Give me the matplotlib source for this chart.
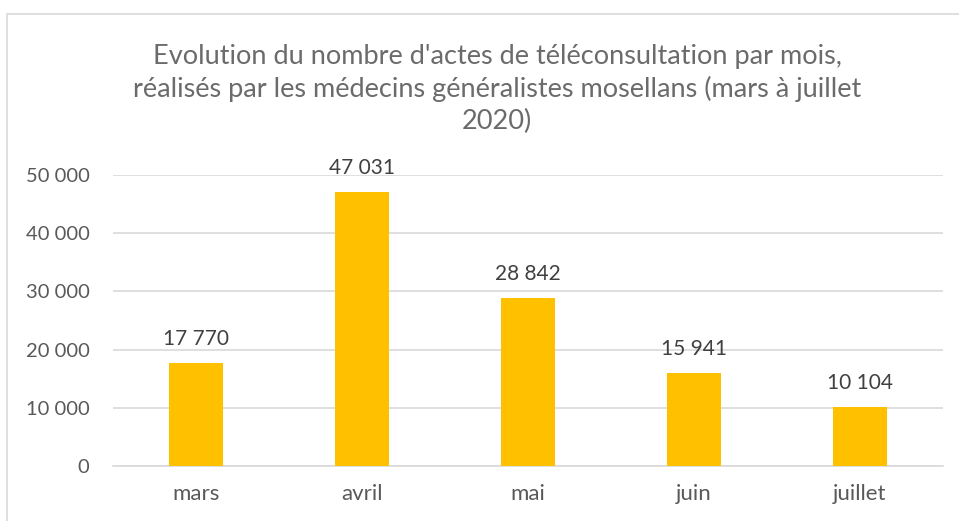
import matplotlib.pyplot as plt
from matplotlib.patches import Rectangle

# donnees
mois = ["mars", "avril", "mai", "juin", "juillet"]
actes = [17770, 47031, 28842, 15941, 10104]
yticks = [0, 10000, 20000, 30000, 40000, 50000]

def fr(v):
    return f"{v:,}".replace(",", " ")

plt.rcParams['font.family'] = ['Lato', 'DejaVu Sans']

W, H = 959, 521
fig = plt.figure(figsize=(W / 100, H / 100), dpi=100)
fig.patch.set_facecolor("white")

# cadre du graphique
fig.patches.append(Rectangle((7 / W, -0.1), 1.2, (H - 14) / H + 0.1,
                             transform=fig.transFigure, fill=False,
                             edgecolor="#D9D9D9", linewidth=1.2))

ax = fig.add_axes([113 / W, 1 - 466 / H, (943 - 113) / W, (466 - 175) / H])
x = range(len(mois))
ax.bar(x, actes, width=0.32, color="#FFC000", zorder=3)
ax.set_xlim(-0.5, len(mois) - 0.5)
ax.set_ylim(0, 50000)
ax.set_yticks(yticks)
ax.set_yticklabels([fr(v) for v in yticks])
ax.set_xticks(list(x))
ax.set_xticklabels(mois)
ax.tick_params(length=0, labelsize=14.5, colors="#595959")
ax.tick_params(axis="x", labelsize=16, pad=13)
ax.tick_params(axis="y", pad=17)
ax.grid(axis="y", color="#D9D9D9", linewidth=1.2, zorder=0)
for s in ["top", "right", "left"]:
    ax.spines[s].set_visible(False)
ax.spines["bottom"].set_color("#D9D9D9")
ax.spines["bottom"].set_linewidth(1.2)

for i, v in enumerate(actes):
    ax.annotate(fr(v), (i, v), xytext=(0, 10), textcoords="offset points",
                ha="center", va="bottom", fontsize=15, color="#404040")

fig.text(497 / W, 1 - 89 / H,
         "Evolution du nombre d'actes de téléconsultation par mois,\n"
         "réalisés par les médecins généralistes mosellans (mars à juillet\n"
         "2020)",
         ha="center", va="center", fontsize=19.5, color="#6B6B6B",
         linespacing=1.35)

fig.savefig("out.png", dpi=100)
